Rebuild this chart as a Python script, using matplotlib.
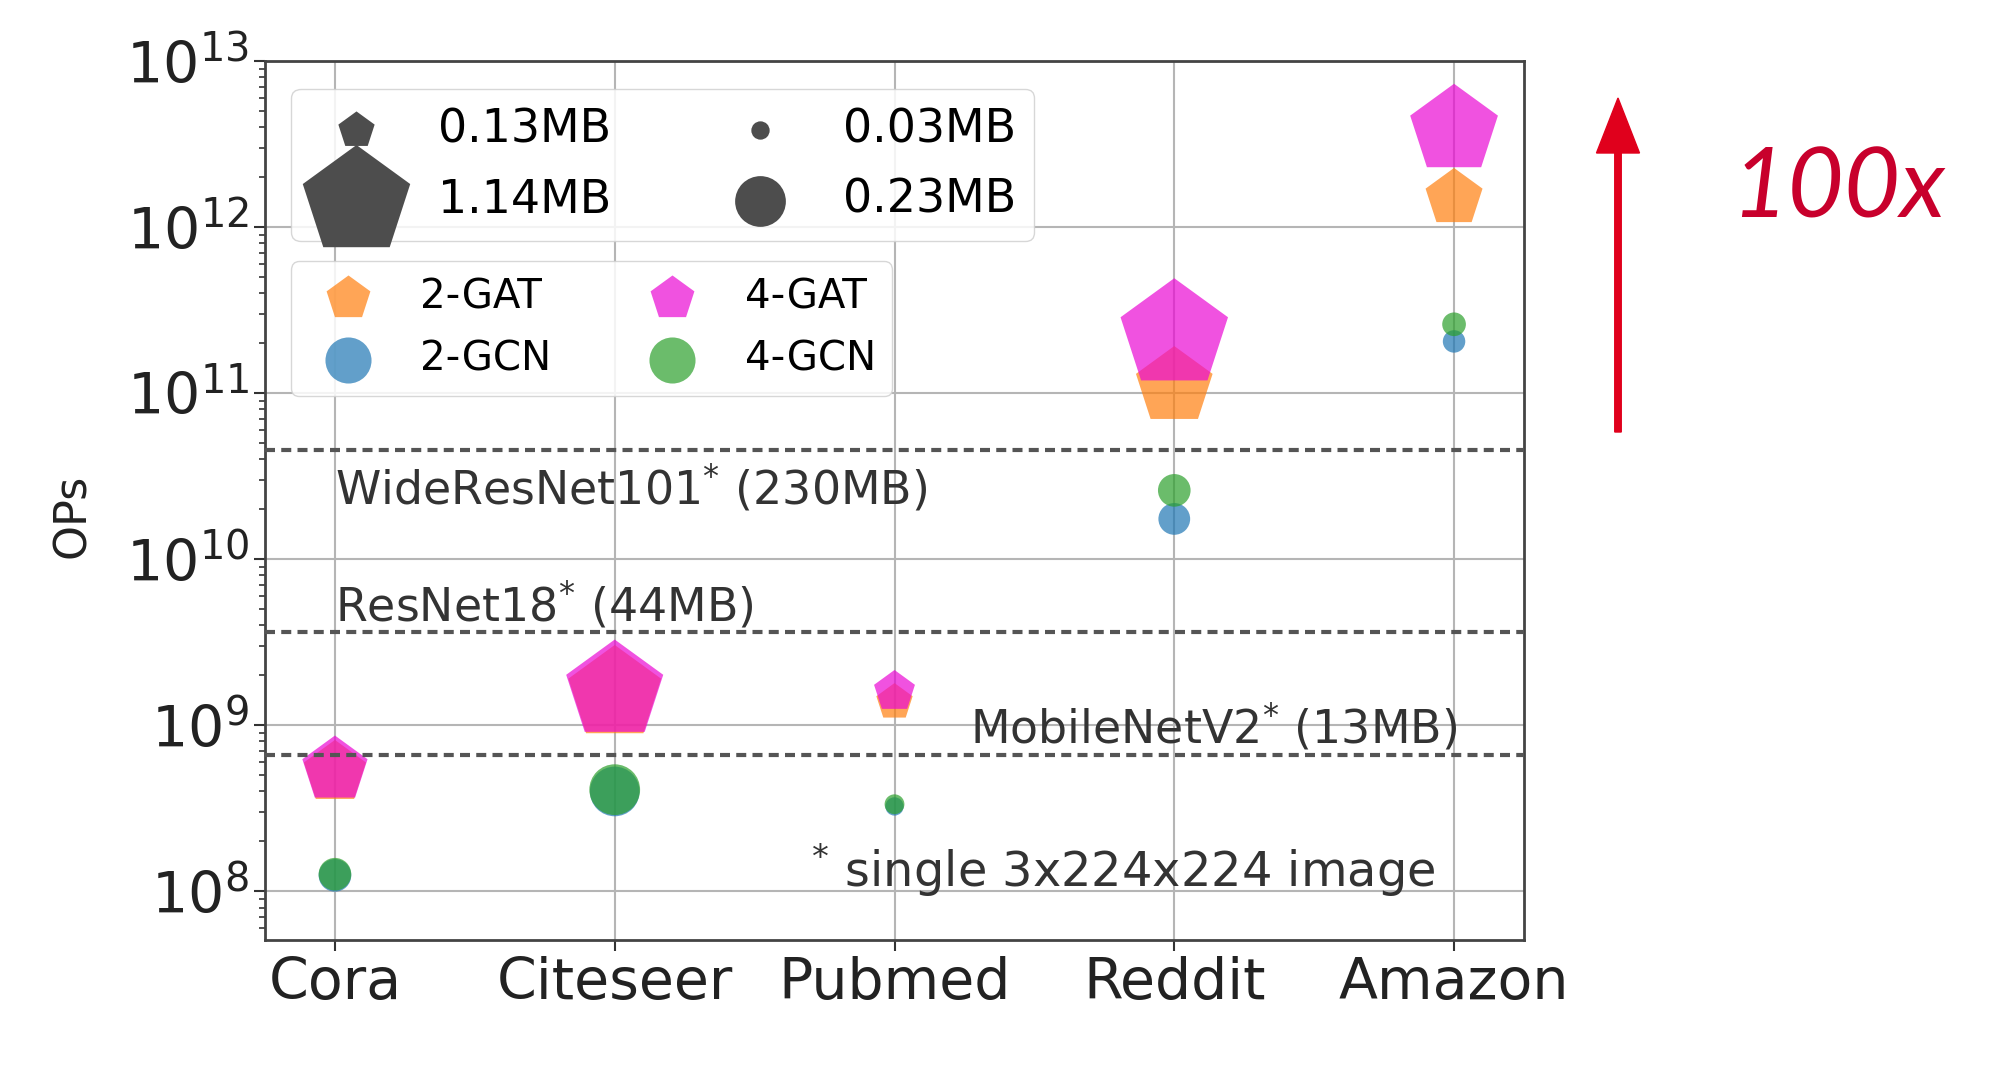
import numpy as np
import matplotlib
matplotlib.use('Agg')
import matplotlib.pyplot as plt
from matplotlib.patches import FancyArrow

# datasets on the x axis
datasets = ['Cora', 'Citeseer', 'Pubmed', 'Reddit', 'Amazon']

# OPs per model / dataset
gat2_ops = [5.2e8, 1.55e9, 1.38e9, 1.1e11, 1.5e12]
gcn2_ops = [1.25e8, 4.0e8, 3.25e8, 1.75e10, 2.05e11]
gat4_ops = [5.4e8, 1.62e9, 1.6e9, 2.25e11, 3.85e12]
gcn4_ops = [1.27e8, 4.1e8, 3.35e8, 2.6e10, 2.6e11]

# marker size in MB
gat2_mb = [0.38, 0.85, 0.13, 0.58, 0.32]
gcn2_mb = [0.095, 0.22, 0.03, 0.09, 0.045]
gat4_mb = [0.42, 0.93, 0.165, 1.14, 0.76]
gcn4_mb = [0.095, 0.23, 0.035, 0.095, 0.05]

# reference CNNs (single 3x224x224 image)
cnn_names = ['WideResNet101', 'ResNet18', 'MobileNetV2']
cnn_ops = [4.56e10, 3.64e9, 6.6e8]
cnn_mem = ['230MB', '44MB', '13MB']

size_legend_mb = [0.13, 1.14, 0.03, 0.23]
size_legend_marker = ['p', 'p', 'o', 'o']

MB_TO_S = 5806  # scatter area (pt^2) per MB

fig = plt.figure(figsize=(20, 10.71), dpi=100)
ax = fig.add_axes([0.1325, 0.1223, 0.6295, 0.8207])
ax.set_axisbelow(True)
x = np.arange(len(datasets))

series = [
    ('2-GAT', gat2_ops, gat2_mb, 'p', '#ff7f0e'),
    ('2-GCN', gcn2_ops, gcn2_mb, 'o', '#1f77b4'),
    ('4-GAT', gat4_ops, gat4_mb, 'p', '#ea08d4'),
    ('4-GCN', gcn4_ops, gcn4_mb, 'o', '#2ca02c'),
]
for name, ops, mb, mk, col in series:
    ax.scatter(x, ops, s=np.array(mb) * MB_TO_S, marker=mk, color=col,
               alpha=0.7, linewidths=0, zorder=2)

# dashed reference lines
for name, ops in zip(cnn_names, cnn_ops):
    ax.axhline(ops, ls='--', color='#555555', lw=3, dashes=(2.4, 1.5), zorder=3)

txt_kw = dict(fontsize=33, color='#333333', va='center', zorder=4)
ax.text(0, 2.67e10, r'%s$^{*}$ (%s)' % (cnn_names[0], cnn_mem[0]), ha='left', **txt_kw)
ax.text(0, 5.25e9, r'%s$^{*}$ (%s)' % (cnn_names[1], cnn_mem[1]), ha='left', **txt_kw)
ax.text(4.01, 9.6e8, r'%s$^{*}$ (%s)' % (cnn_names[2], cnn_mem[2]), ha='right', **txt_kw)
txt_kw['fontsize'] = 34.5
ax.text(1.7, 1.35e8, r'$^{*}$ single 3x224x224 image', ha='left', **txt_kw)

ax.set_yscale('log')
ax.set_ylim(5.1e7, 1e13)
ax.set_xlim(-0.25, 4.25)
ax.set_xticks(x)
ax.set_xticklabels(datasets)
ax.tick_params(axis='both', which='major', labelsize=41, length=8, width=1.5,
               colors='#333333', labelcolor='#222222')
ax.tick_params(axis='y', which='minor', length=4, width=1.2, colors='#333333')
ax.grid(True, which='major', color='#b5b5b5', lw=1.5)
for sp in ax.spines.values():
    sp.set_color('#444444')
    sp.set_linewidth(2)

ax.set_ylabel('OPs', fontsize=32, color='#222222')
ax.yaxis.set_label_coords(-0.136, 0.482)

# size legend
size_handles = []
for mb, mk in zip(size_legend_mb, size_legend_marker):
    h = ax.scatter([], [], s=mb * MB_TO_S, marker=mk, color='#4d4d4d', linewidths=0)
    size_handles.append(h)
leg1 = ax.legend(size_handles, ['%.2fMB' % v for v in size_legend_mb], ncol=2,
                 loc='upper left', bbox_to_anchor=(0.021, 0.968), borderaxespad=0,
                 fontsize=33, scatterpoints=1, labelspacing=0.55, columnspacing=2.25,
                 edgecolor='#d0d0d0', framealpha=0.85)
ax.add_artist(leg1)

# model legend
model_handles = []
for name, ops, mb, mk, col in series:
    h = ax.scatter([], [], s=1100, marker=mk, color=col, alpha=0.7, linewidths=0)
    model_handles.append(h)
ax.legend(model_handles, [s[0] for s in series], ncol=2, loc='upper left',
          bbox_to_anchor=(0.021, 0.772), borderaxespad=0, fontsize=29,
          scatterpoints=1, labelspacing=0.55, edgecolor='#d0d0d0', framealpha=0.85)

# red arrow and label
arrow = FancyArrow(16.18, 10.71 - 4.32, 0, 3.34, width=0.065, head_width=0.43,
                   head_length=0.55, length_includes_head=True, color='#e0001c',
                   transform=fig.dpi_scale_trans)
fig.patches.append(arrow)
fig.text(0.919, 0.822, '100x', fontsize=70, color='#c8002c', style='italic',
         family=['Lato', 'DejaVu Sans'], ha='center', va='center')

fig.savefig('out.png', dpi=100)
